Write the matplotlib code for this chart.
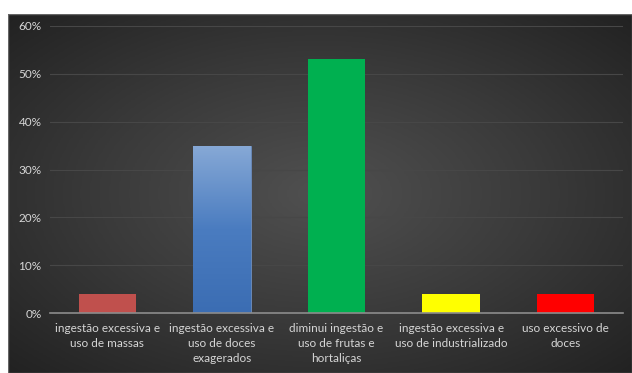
import numpy as np
import matplotlib.pyplot as plt
from matplotlib.colors import LinearSegmentedColormap
from matplotlib.patches import Rectangle

categories = ["ingestão excessiva e\nuso de massas",
              "ingestão excessiva e\nuso de doces\nexagerados",
              "diminui ingestão e\nuso de frutas e\nhortaliças",
              "ingestão excessiva e\nuso de industrializado",
              "uso excessivo de\ndoces"]
values = [0.04, 0.35, 0.53, 0.04, 0.04]
colors = ["#C0504D", "#4F81BD", "#00B050", "#FFFF00", "#FF0000"]
yticks = [0, 0.1, 0.2, 0.3, 0.4, 0.5, 0.6]
ytick_labels = ["0%", "10%", "20%", "30%", "40%", "50%", "60%"]

plt.rcParams['font.family'] = ['Lato', 'DejaVu Sans']
text_color = "#D6D6D6"

fig = plt.figure(figsize=(6.32, 3.73), dpi=100)
fig.patch.set_facecolor("white")

# dark panel with a soft radial glow in the middle
bg = fig.add_axes([8 / 632, 0, 1 - 8 / 632, 1 - 14 / 373])
bg.set_axis_off()
yy, xx = np.mgrid[-1:1:200j, -1:1:340j]
r = np.sqrt(xx ** 2 + yy ** 2) / np.sqrt(2)
glow = LinearSegmentedColormap.from_list("glow", ["#505050", "#3A3A3A", "#222222"])
bg.imshow(r, cmap=glow, aspect="auto", extent=(0, 1, 0, 1), zorder=0)
bg.add_patch(Rectangle((0, 0), 1, 1, transform=bg.transAxes, fill=False,
                       edgecolor="#666666", linewidth=1.0))
bg.set_xlim(0, 1)
bg.set_ylim(0, 1)

ax = fig.add_axes([50 / 632, (373 - 313) / 373, 573 / 632, 287 / 373])
ax.patch.set_alpha(0)
x = np.arange(len(categories))
bars = ax.bar(x, values, width=0.5, color=colors, zorder=3)

# vertical gradient fill on the blue bar
b = bars[1]
bx, by = b.get_x(), b.get_y()
bw, bh = b.get_width(), b.get_height()
blue = LinearSegmentedColormap.from_list("blue", ["#3B6DB3", "#4A7CC0", "#87A9D6"])
grad = np.linspace(0, 1, 256).reshape(-1, 1)
im = ax.imshow(grad, cmap=blue, origin="lower", aspect="auto",
               extent=(bx, bx + bw, by, by + bh), zorder=4)
im.set_clip_path(b)
b.set_edgecolor("#6F8FBF")
b.set_linewidth(0.6)

ax.set_xlim(-0.5, len(categories) - 0.5)
ax.set_ylim(0, 0.6)
ax.set_yticks(yticks)
ax.set_yticklabels(ytick_labels)
ax.set_xticks(x)
ax.set_xticklabels(categories, linespacing=1.45)
ax.tick_params(axis="both", length=0, colors=text_color, labelsize=8.5)
ax.tick_params(axis="y", pad=6)
ax.tick_params(axis="x", pad=7)
ax.yaxis.grid(True, color="#474747", linewidth=0.8, zorder=1)
for s in ["top", "right", "left"]:
    ax.spines[s].set_visible(False)
ax.spines["bottom"].set_color("#8C8C8C")
ax.spines["bottom"].set_linewidth(1.2)
ax.spines["bottom"].set_zorder(5)

fig.savefig("out.png", dpi=100)
